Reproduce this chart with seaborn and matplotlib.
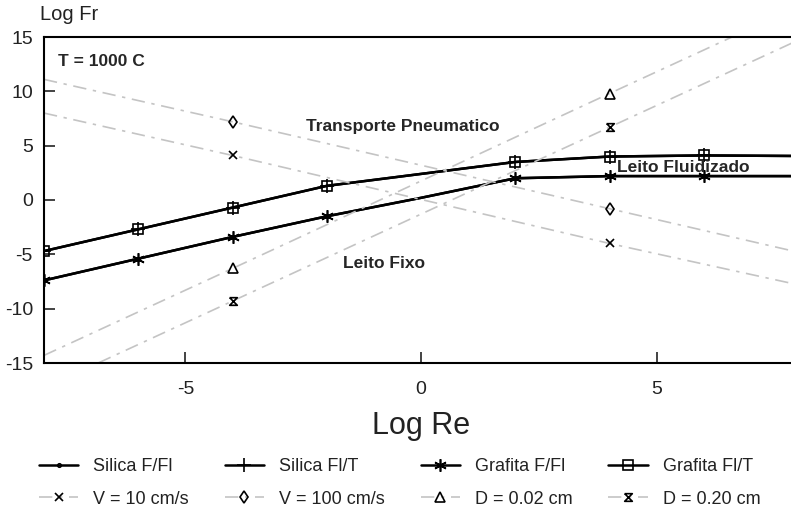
import matplotlib
matplotlib.use("Agg")
import matplotlib.pyplot as plt
import seaborn as sns
import pandas as pd

# Log Re positions for the transition curves (markers everywhere but at 0)
re_curve = [-8, -6, -4, -2, 0, 2, 4, 6, 8]
fr_fl_t = [-4.7, -2.7, -0.7, 1.3, 2.4, 3.5, 4.0, 4.1, 4.05]
fr_f_fl = [-7.4, -5.4, -3.4, -1.5, 0.2, 2.0, 2.2, 2.2, 2.2]

# reference lines (velocity / diameter), markers at -4 and 4
re_ref = [-8, -4, 4, 8]
fr_v10 = [8.0, 4.1, -4.0, -7.8]
fr_v100 = [11.1, 7.2, -0.8, -4.8]
fr_d002 = [-14.3, -6.3, 9.8, 17.8]
fr_d020 = [-17.3, -9.3, 6.7, 14.7]

hourglass = [(-1, 1), (1, 1), (-1, -1), (1, -1), (-1, 1)]
asterisk = (6, 2, 0)

sns.set_style("ticks")
plt.rcParams["font.family"] = ["Liberation Sans", "DejaVu Sans"]
plt.rcParams["axes.unicode_minus"] = False

fig = plt.figure(figsize=(7.91, 5.15), dpi=100)
ax = fig.add_axes([44 / 791, (515 - 363) / 515, 754 / 791, 326 / 515])

curve_marks = [0, 1, 2, 3, 5, 6, 7]
curves = [
    ("Silica F/Fl", fr_f_fl, ".", 5),
    ("Silica Fl/T", fr_fl_t, "+", 10),
    ("Grafita F/Fl", fr_f_fl, asterisk, 9),
    ("Grafita Fl/T", fr_fl_t, "s", 7),
]
for name, ys, mk, ms in curves:
    df = pd.DataFrame({"Log Re": re_curve, "Log Fr": ys})
    sns.lineplot(data=df, x="Log Re", y="Log Fr", ax=ax, color="black", lw=1.8,
                 marker=mk, markersize=ms, markevery=curve_marks,
                 markerfacecolor="none", markeredgecolor="black", markeredgewidth=1.2,
                 label=name, sort=False)

refs = [
    ("V = 10 cm/s", fr_v10, "x", 6),
    ("V = 100 cm/s", fr_v100, "d", 6),
    ("D = 0.02 cm", fr_d002, "^", 6.5),
    ("D = 0.20 cm", fr_d020, hourglass, 5.5),
]
for name, ys, mk, ms in refs:
    df = pd.DataFrame({"Log Re": re_ref, "Log Fr": ys})
    sns.lineplot(data=df, x="Log Re", y="Log Fr", ax=ax, color="#c4c4c4", lw=1.2,
                 dashes=False, linestyle=(0, (8, 4, 2, 4)),
                 marker=mk, markersize=ms, markevery=[1, 2],
                 markerfacecolor="none", markeredgecolor="black", markeredgewidth=1.2,
                 label=name, sort=False)

ax.set_xlim(-8, 8)
ax.set_ylim(-15, 15)
ax.set_xticks([-5, 0, 5])
ax.set_yticks([-15, -10, -5, 0, 5, 10, 15])
ax.tick_params(direction="in", length=8, width=1.2, labelsize=14, colors="#222222", pad=8)
ax.tick_params(axis="x", pad=13)
for s in ax.spines.values():
    s.set_linewidth(1.5)
    s.set_color("black")
ax.set_xlabel("Log Re", fontsize=22, labelpad=9, color="#222222")
ax.set_ylabel("")
fig.text(40 / 791, 1 - 15 / 515, "Log Fr", fontsize=14.5, va="center", ha="left", color="#222222")

bold = dict(weight="bold", fontsize=12.5)
ax.text(-7.7, 12.7, "T = 1000 C", va="center", **bold)
ax.text(-2.45, 6.8, "Transporte Pneumatico", va="center", **bold)
ax.text(-1.65, -5.8, "Leito Fixo", va="center", **bold)
ax.text(4.15, 3.0, "Leito Fluidizado", va="center", **bold)

h, l = ax.get_legend_handles_labels()
ax.get_legend().remove()
order = [0, 4, 1, 5, 2, 6, 3, 7]
leg = fig.legend([h[i] for i in order], [l[i] for i in order], ncol=4, loc="center",
                 bbox_to_anchor=(0.505, 0.062), frameon=False, fontsize=13,
                 handlelength=2.2, columnspacing=2.0, handletextpad=0.8, labelspacing=0.85)
for t in leg.get_texts():
    t.set_color("#222222")

fig.savefig("out.png", dpi=100)
